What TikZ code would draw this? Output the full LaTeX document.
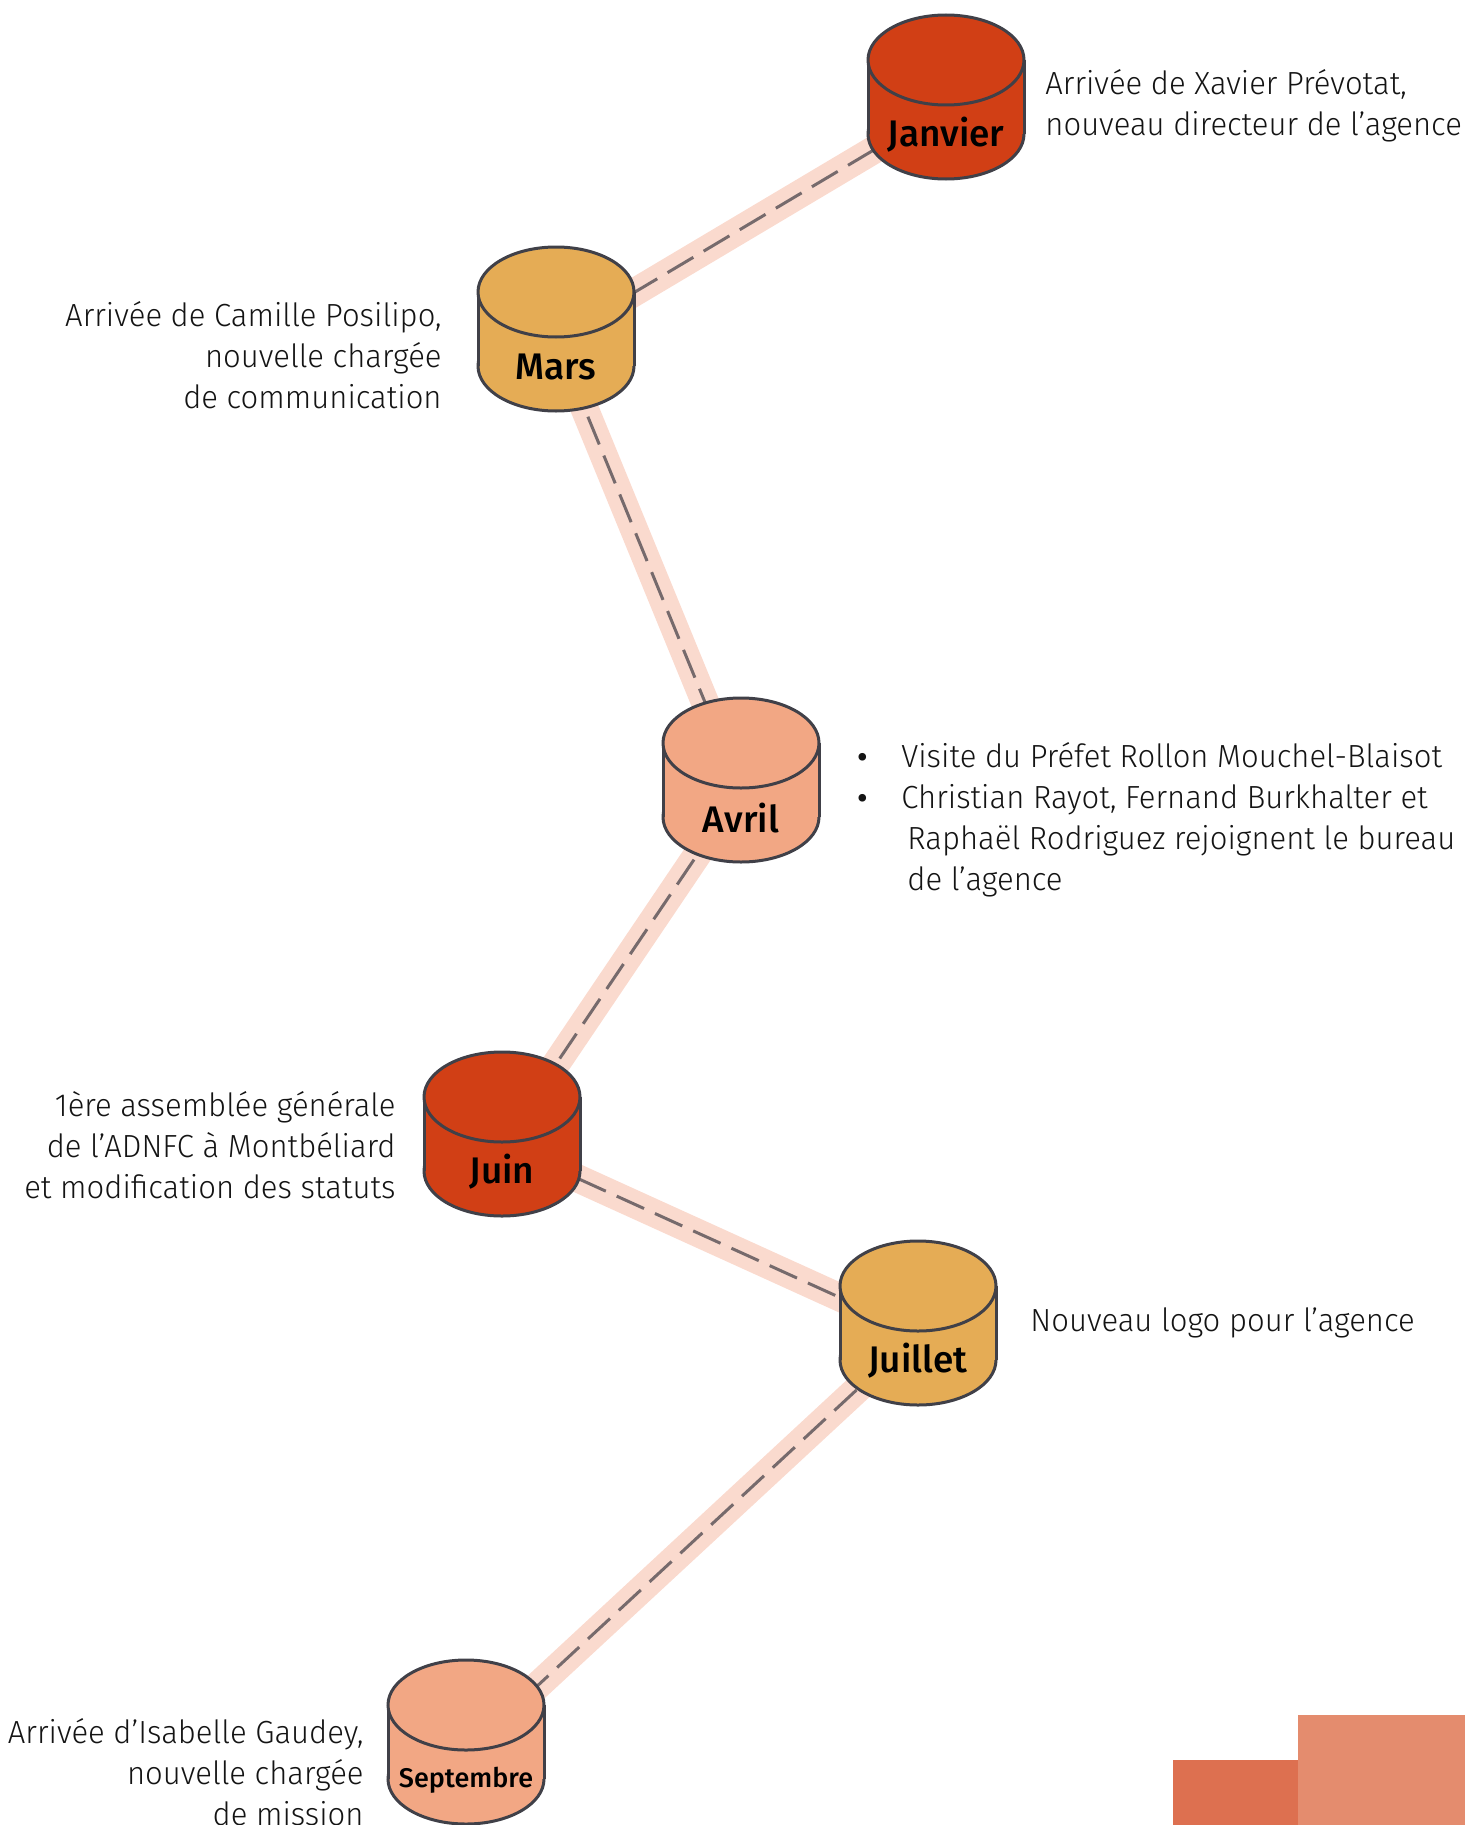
\documentclass[tikz,border=0pt]{standalone}
\usepackage{fontspec}
\setmainfont{Fira Sans Light}[FakeStretch=0.97]
\newfontfamily\labelfont{Fira Sans Medium}
\definecolor{cred}{HTML}{D13F15}
\definecolor{cgold}{HTML}{E5AC55}
\definecolor{csalmon}{HTML}{F2A784}
\definecolor{cline}{HTML}{404048}
\definecolor{cband}{HTML}{FADACE}
\definecolor{cdash}{HTML}{766A6C}
\definecolor{ctext}{HTML}{141414}
\definecolor{rdark}{HTML}{DD7050}
\definecolor{rlight}{HTML}{E48C6E}
\tikzset{
  cylline/.style={draw=cline, line width=1.5pt},
  cyllabel/.style={font=\labelfont\fontsize{18.5}{21}\selectfont, text=black, inner sep=0pt},
  bodytext/.style={font=\fontsize{16}{20.5}\selectfont, text=ctext, inner sep=0pt},
  band/.style={draw=cband, line width=14pt},
  dashline/.style={draw=cdash, line width=1.5pt, dash pattern=on 15pt off 6pt},
}
\newcommand\drawcyl[5]{%
  \draw[cylline, fill=#4] (#2,#3+119) ellipse [x radius=39pt, y radius=22.5pt];
  \fill[#4] (#2-78,#3+45) rectangle (#2+78,#3+119);
  \draw[cylline] (#2-78,#3+45) -- (#2-78,#3+119) (#2+78,#3+45) -- (#2+78,#3+119);
  \draw[cylline, fill=#4] (#2,#3+45) ellipse [x radius=39pt, y radius=22.5pt];
  \node[cyllabel] (#1) at (#2,#3+120) {#5};
}
\newcommand\bul{\makebox[22pt][l]{\raisebox{0.3pt}{\labelfont\fontsize{15}{15}\selectfont •}}}
\begin{document}
\begin{tikzpicture}[x=0.5pt, y=-0.5pt]
\useasboundingbox (0,0) rectangle (1465,1825);
% corner blocks
\fill[rdark] (1173,1760) rectangle (1298,1825);
\fill[rlight] (1298,1715) rectangle (1465,1825);
% connector anchors
\coordinate (janc) at (946,107);
\coordinate (marc) at (556,339);
\coordinate (avrc) at (741,790);
\coordinate (juic) at (502,1144);
\coordinate (julc) at (918,1333);
\coordinate (sepc) at (466,1752);
\foreach \a/\b in {janc/marc, marc/avrc, avrc/juic, juic/julc, julc/sepc}{
  \draw[band] (\a) -- (\b);
  \draw[dashline] (\a) -- (\b);
}
% cylinders
\drawcyl{jan}{946}{15}{cred}{Janvier}
\drawcyl{mar}{556}{247}{cgold}{Mars}
\drawcyl{avr}{741}{698}{csalmon}{Avril}
\drawcyl{jui}{502}{1052}{cred}{Juin}
\drawcyl{jul}{918}{1241}{cgold}{Juillet}
\drawcyl{sep}{466}{1660}{csalmon}{\fontsize{13.5}{16}\selectfont Septembre}
% texts
\node[bodytext, align=left, anchor=west] (jantxt) at (1045,106) {Arrivée de Xavier Prévotat,\\nouveau directeur de l’agence};
\node[bodytext, align=right, anchor=east] (martxt) at (442,355) {Arrivée de Camille Posilipo,\\nouvelle chargée\\de communication};
\node[bodytext, align=left, anchor=west] (avrtxt) at (857,820) {\bul Visite du Préfet Rollon Mouchel-Blaisot\\\bul Christian Rayot, Fernand Burkhalter et\\\hspace*{25pt}Raphaël Rodriguez rejoignent le bureau\\\hspace*{25pt}de l’agence};
\node[bodytext, align=right, anchor=east] (juitxt) at (396,1145) {1ère assemblée générale\\de l’ADNFC à Montbéliard\\et modification des statuts};
\node[bodytext, align=left, anchor=west] (jultxt) at (1030,1323) {Nouveau logo pour l’agence};
\node[bodytext, align=right, anchor=east] (septxt) at (364,1772) {Arrivée d’Isabelle Gaudey,\\nouvelle chargée\\de mission};
\end{tikzpicture}
\end{document}
